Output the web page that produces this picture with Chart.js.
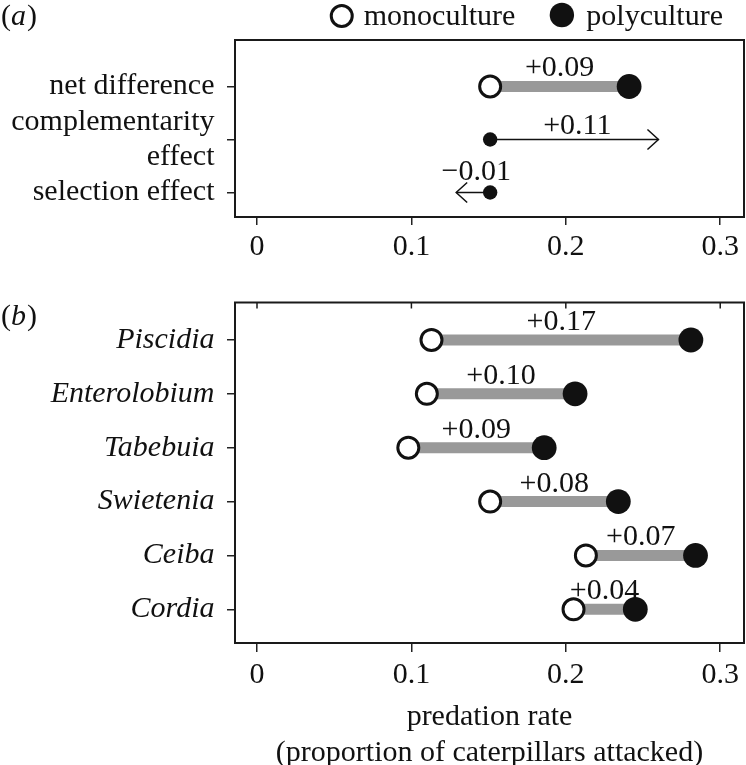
<!DOCTYPE html>
<html><head><meta charset="utf-8">
<script src="https://cdn.jsdelivr.net/npm/chart.js@4.4.1/dist/chart.umd.min.js"></script>
<style>
html,body{margin:0;padding:0;background:#fff;overflow:hidden;width:746px;height:765px;}
#wa{position:absolute;left:0;top:0;width:746px;height:260px;}
#wb{position:absolute;left:0;top:260px;width:746px;height:511px;}
</style></head><body>
<div id="wa"><canvas id="ca"></canvas></div>
<div id="wb"><canvas id="cb"></canvas></div>
<script>
// ---- data ----
const xTicks = [0, 0.1, 0.2, 0.3];
const effectRows = ['net difference', ['complementarity', 'effect'], 'selection effect'];
const netMono = [0.151];
const netPoly = [0.241];
const netLabel = ['+0.09'];
const effectStart = [0.151, 0.151];
const effectEnd = [0.260, 0.129];
const effectLabels = ['+0.11', '\u22120.01'];

const species = ['Piscidia', 'Enterolobium', 'Tabebuia', 'Swietenia', 'Ceiba', 'Cordia'];
const monoRate = [0.113, 0.110, 0.098, 0.151, 0.213, 0.205];
const polyRate = [0.281, 0.206, 0.186, 0.234, 0.284, 0.245];
const diffLabels = ['+0.17', '+0.10', '+0.09', '+0.08', '+0.07', '+0.04'];

// ---- style ----
const FONT = '"Liberation Serif", "Times New Roman", serif';
const FS = 30;
const INK = '#111';
const GREY = '#999999';
Chart.defaults.font.family = FONT;
Chart.defaults.font.size = FS;
Chart.defaults.color = INK;

function xScale(tl, pad, h) {
  return {
    type: 'linear', min: -0.01425, max: 0.3154,
    afterBuildTicks: s => { s.ticks = xTicks.map(v => ({ value: v })); },
    afterFit: s => { s.height = h; s.paddingLeft = 0; s.paddingRight = 0; },
    ticks: { autoSkip: false, maxRotation: 0, padding: pad, callback: v => String(v), font: { size: FS, lineHeight: '35px' } },
    grid: { drawOnChartArea: false, drawTicks: true, tickLength: tl, color: '#222', lineWidth: 1.5 },
    border: { display: false }
  };
}

const framePlugin = {
  id: 'frame',
  afterDraw(chart, args, opts) {
    const { ctx, chartArea: a } = chart;
    ctx.save();
    ctx.strokeStyle = '#1a1a1a';
    ctx.lineWidth = 2;
    ctx.strokeRect(a.left, a.top, a.right - a.left, a.bottom - a.top);
    if (opts.innerTopTicks) {
      const xs = chart.scales.x;
      ctx.lineWidth = 1.5;
      xTicks.forEach(v => {
        const px = xs.getPixelForValue(v);
        ctx.beginPath(); ctx.moveTo(px, a.top); ctx.lineTo(px, a.top + 6); ctx.stroke();
      });
    }
    ctx.restore();
  }
};

function drawPanelLetter(ctx, letter, x, y) {
  ctx.save();
  ctx.fillStyle = INK;
  ctx.textBaseline = 'alphabetic';
  ctx.textAlign = 'left';
  ctx.font = FS + 'px ' + FONT;
  ctx.fillText('(', x, y);
  let w = ctx.measureText('(').width;
  ctx.font = 'italic ' + FS + 'px ' + FONT;
  ctx.fillText(letter, x + w, y);
  w += ctx.measureText(letter).width + 1;
  ctx.font = FS + 'px ' + FONT;
  ctx.fillText(')', x + w, y);
  ctx.restore();
}

function drawLabel(ctx, text, x, y) {
  ctx.save();
  ctx.fillStyle = INK;
  ctx.font = FS + 'px ' + FONT;
  ctx.textAlign = 'center';
  ctx.textBaseline = 'alphabetic';
  ctx.fillText(text, x, y);
  ctx.restore();
}

// ---- panel (a) ----
const annotA = {
  id: 'annotA',
  afterDatasetsDraw(chart) {
    const { ctx } = chart;
    const xs = chart.scales.x, ys = chart.scales.y;
    const y0 = ys.getPixelForValue(0);
    drawLabel(ctx, netLabel[0], (xs.getPixelForValue(netMono[0]) + xs.getPixelForValue(netPoly[0])) / 2, y0 - 10);
    effectStart.forEach((s, i) => {
      const e = effectEnd[i];
      const py = ys.getPixelForValue(i + 1);
      const ps = xs.getPixelForValue(s), pe = xs.getPixelForValue(e);
      const dir = Math.sign(pe - ps);
      ctx.save();
      ctx.strokeStyle = INK; ctx.lineWidth = 1.5;
      ctx.beginPath();
      ctx.moveTo(pe - dir * 11, py - 10);
      ctx.lineTo(pe, py);
      ctx.lineTo(pe - dir * 11, py + 10);
      ctx.stroke();
      ctx.restore();
      drawLabel(ctx, effectLabels[i], (ps + pe) / 2 + 3, py - (dir > 0 ? 5 : 13));
    });
  },
  afterDraw(chart) {
    const { ctx } = chart;
    drawPanelLetter(ctx, 'a', 1, 25);
    ctx.save();
    ctx.font = FS + 'px ' + FONT;
    ctx.textBaseline = 'alphabetic';
    ctx.textAlign = 'left';
    ctx.fillStyle = INK;
    const rightEnd = 723;
    const wPoly = ctx.measureText('polyculture').width;
    const polyTextX = rightEnd - wPoly;
    const polyCx = polyTextX - 24.5;
    const monoTextEnd = polyCx - 46.5;
    const wMono = ctx.measureText('monoculture').width;
    const monoTextX = monoTextEnd - wMono;
    const monoCx = monoTextX - 22;
    ctx.fillText('monoculture', monoTextX, 25);
    ctx.fillText('polyculture', polyTextX, 25);
    ctx.beginPath(); ctx.arc(monoCx, 16, 10.5, 0, Math.PI * 2);
    ctx.fillStyle = '#fff'; ctx.fill();
    ctx.lineWidth = 3; ctx.strokeStyle = INK; ctx.stroke();
    ctx.beginPath(); ctx.arc(polyCx, 15, 12.2, 0, Math.PI * 2);
    ctx.fillStyle = INK; ctx.fill();
    ctx.restore();
  }
};

const dsA = [
  { type: 'line', showLine: true, data: [{ x: netMono[0], y: 0 }, { x: netPoly[0], y: 0 }],
    borderColor: GREY, borderWidth: 11, borderCapStyle: 'butt', pointRadius: 0, order: 5 },
  ...effectStart.map((s, i) => ({ type: 'line', showLine: true,
    data: [{ x: s, y: i + 1 }, { x: effectEnd[i], y: i + 1 }],
    borderColor: INK, borderWidth: 1.5, borderCapStyle: 'butt', pointRadius: 0, order: 4 })),
  { type: 'scatter', data: [{ x: netMono[0], y: 0 }],
    pointRadius: 10.5, borderWidth: 3, borderColor: INK, backgroundColor: '#fff', order: 1 },
  { type: 'scatter', data: [{ x: netPoly[0], y: 0 }, ...effectStart.map((s, i) => ({ x: s, y: i + 1 }))],
    pointRadius: c => c.dataIndex === 0 ? 12.4 : 7.2, borderWidth: 0, backgroundColor: INK, order: 0 }
];

new Chart(document.getElementById('ca'), {
  type: 'scatter',
  data: { datasets: dsA },
  options: {
    responsive: true, maintainAspectRatio: false, animation: false, devicePixelRatio: 1,
    layout: { autoPadding: false, padding: { left: 0, right: 2, top: 40, bottom: 0 } },
    plugins: { legend: { display: false }, tooltip: { enabled: false }, frame: {} },
    scales: {
      x: xScale(8, 4.5, 43),
      y: {
        type: 'linear', reverse: true, min: -0.877, max: 2.462,
        afterBuildTicks: s => { s.ticks = effectRows.map((_, i) => ({ value: i })); },
        afterFit: s => { s.width = 235; },
        ticks: { autoSkip: false, padding: 12.5, callback: v => effectRows[v], font: { size: FS, lineHeight: '35px' } },
        grid: { drawOnChartArea: false, drawTicks: true, tickLength: 8, color: '#222', lineWidth: 1.5 },
        border: { display: false }
      }
    }
  },
  plugins: [framePlugin, annotA]
});

// ---- panel (b) ----
const annotB = {
  id: 'annotB',
  afterDatasetsDraw(chart) {
    const { ctx } = chart;
    const xs = chart.scales.x, ys = chart.scales.y;
    species.forEach((s, i) => {
      const py = ys.getPixelForValue(i);
      const mx = (xs.getPixelForValue(monoRate[i]) + xs.getPixelForValue(polyRate[i])) / 2;
      drawLabel(ctx, diffLabels[i], mx, py - 10);
    });
  },
  afterDraw(chart) {
    drawPanelLetter(chart.ctx, 'b', 1, 65);
  }
};

const dsB = [
  ...species.map((s, i) => ({ type: 'line', showLine: true,
    data: [{ x: monoRate[i], y: i }, { x: polyRate[i], y: i }],
    borderColor: GREY, borderWidth: 11, borderCapStyle: 'butt', pointRadius: 0, order: 5 })),
  { type: 'scatter', data: species.map((s, i) => ({ x: monoRate[i], y: i })),
    pointRadius: 10.5, borderWidth: 3, borderColor: INK, backgroundColor: '#fff', order: 1 },
  { type: 'scatter', data: species.map((s, i) => ({ x: polyRate[i], y: i })),
    pointRadius: 12.4, borderWidth: 0, backgroundColor: INK, order: 0 }
];

const xB = xScale(9, 5.5, 128);
xB.title = { display: true, text: ['predation rate', '(proportion of caterpillars attacked)'],
  font: { size: FS, lineHeight: '36px' }, padding: { top: 0, bottom: 0 }, color: INK };

new Chart(document.getElementById('cb'), {
  type: 'scatter',
  data: { datasets: dsB },
  options: {
    responsive: true, maintainAspectRatio: false, animation: false, devicePixelRatio: 1,
    layout: { autoPadding: false, padding: { left: 0, right: 2, top: 42.5, bottom: 0 } },
    plugins: { legend: { display: false }, tooltip: { enabled: false }, frame: { innerTopTicks: true } },
    scales: {
      x: xB,
      y: {
        type: 'linear', reverse: true, min: -0.696, max: 5.626,
        afterBuildTicks: s => { s.ticks = species.map((_, i) => ({ value: i })); },
        afterFit: s => { s.width = 235; },
        ticks: { autoSkip: false, padding: 12.5, callback: v => species[v], font: { size: FS, style: 'italic', lineHeight: '35px' } },
        grid: { drawOnChartArea: false, drawTicks: true, tickLength: 8, color: '#222', lineWidth: 1.5 },
        border: { display: false }
      }
    }
  },
  plugins: [framePlugin, annotB]
});
</script>
</body></html>
